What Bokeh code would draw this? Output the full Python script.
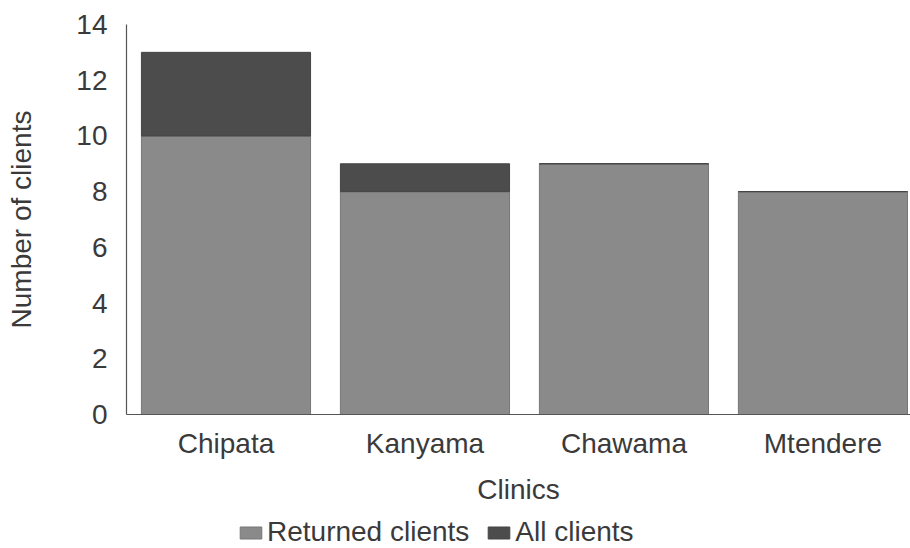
from bokeh.plotting import figure
from bokeh.layouts import column
from bokeh.models import ColumnDataSource, Range1d, FixedTicker, Legend, LegendItem
from bokeh.embed import file_html
from bokeh.resources import INLINE

clinics = ["Chipata", "Kanyama", "Chawama", "Mtendere"]
returned_clients = [10, 8, 9, 8]
all_clients_extra = [3, 1, 0, 0]
y_ticks = [0, 2, 4, 6, 8, 10, 12, 14]
series_names = ["Returned clients", "All clients"]

FONT = "Liberation Sans"
TXT = "#3a3a3a"
LIGHT = "#8a8a8a"
DARK = "#4c4c4c"
COLORS = [LIGHT, DARK]
EDGES = ["#777777", "#444444"]

pos = list(range(len(clinics)))
source = ColumnDataSource(dict(x=pos, returned=returned_clients, extra=all_clients_extra))

p = figure(width=910, height=508, output_backend="svg", toolbar_location=None,
           x_range=Range1d(-0.5, 3.44), y_range=Range1d(0, 14),
           min_border_left=126, min_border_top=24, min_border_right=0, min_border_bottom=94)
p.outline_line_color = None
p.xgrid.visible = False
p.ygrid.visible = False

r = p.vbar_stack(["returned", "extra"], x="x", width=0.85, source=source,
                 fill_color=COLORS, line_color=EDGES, line_width=1)

p.xaxis.ticker = FixedTicker(ticks=pos)
p.xaxis.major_label_overrides = {i: c for i, c in zip(pos, clinics)}
p.yaxis.ticker = FixedTicker(ticks=y_ticks)

for ax in (p.xaxis[0], p.yaxis[0]):
    ax.major_tick_line_color = None
    ax.minor_tick_line_color = None
    ax.axis_line_color = "#555555"
    ax.axis_line_width = 1.2
    ax.major_label_text_font = FONT
    ax.major_label_text_font_size = "28px"
    ax.major_label_text_color = TXT
    ax.axis_label_text_font = FONT
    ax.axis_label_text_font_size = "28px"
    ax.axis_label_text_font_style = "normal"
    ax.axis_label_text_color = TXT

p.xaxis.axis_label = "Clinics"
p.xaxis.major_label_standoff = 7
p.xaxis.axis_label_standoff = 12
p.yaxis.axis_label = "Number of clients"
p.yaxis.major_label_standoff = 13
p.yaxis.axis_label_standoff = 36

# legend strip below the chart (its bars fall outside its ranges, only the keys show)
p2 = figure(width=910, height=40, output_backend="svg", toolbar_location=None,
            x_range=Range1d(100, 101), y_range=Range1d(100, 101),
            x_axis_location=None, y_axis_location=None,
            min_border_left=0, min_border_right=0, min_border_top=0, min_border_bottom=0)
p2.outline_line_color = None
p2.xgrid.visible = False
p2.ygrid.visible = False
keys = p2.vbar_stack(["returned", "extra"], x="x", width=0.85, source=source,
                     fill_color=COLORS, line_color=EDGES, line_width=1)

legend = Legend(items=[LegendItem(label=n, renderers=[k]) for n, k in zip(series_names, keys)],
                orientation="horizontal", location=(111, 0),
                padding=0, margin=0, spacing=16, label_standoff=3,
                glyph_width=27, glyph_height=15, label_height=14,
                label_text_font=FONT, label_text_font_size="28px", label_text_color=TXT,
                border_line_color=None, background_fill_alpha=0)
p2.add_layout(legend, "center")

layout = column(p, p2, spacing=0)
open("out.html", "w").write(file_html(layout, INLINE))
